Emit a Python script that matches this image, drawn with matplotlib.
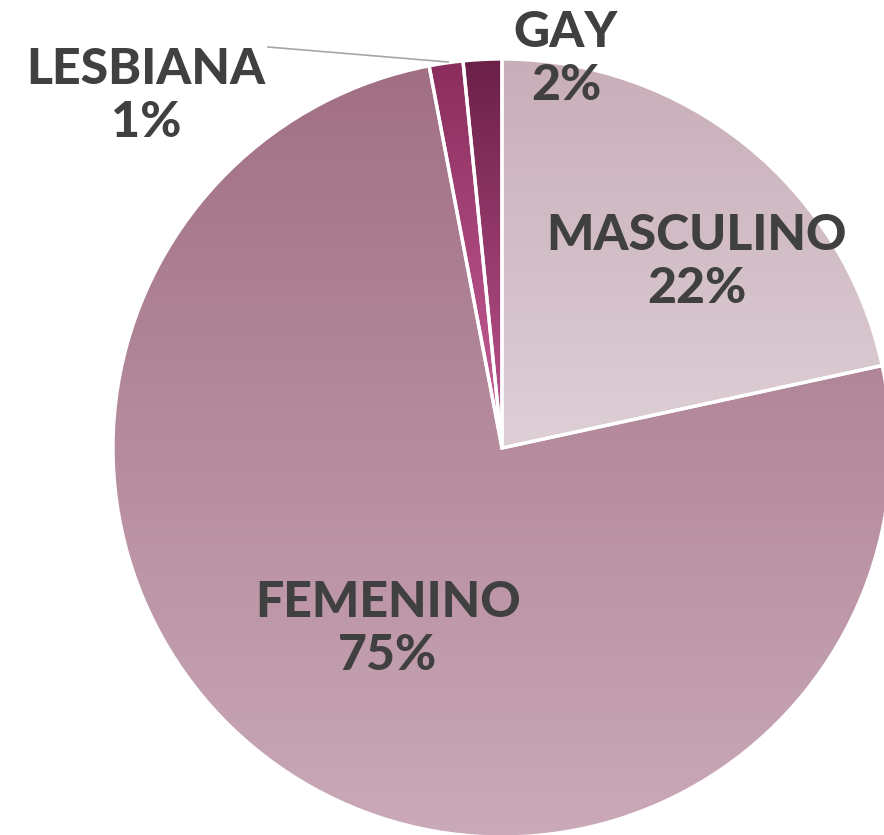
import matplotlib.pyplot as plt
import numpy as np
from matplotlib.colors import LinearSegmentedColormap

categories = ['MASCULINO', 'FEMENINO', 'LESBIANA', 'GAY']
values = [21.6, 75.4, 1.4, 1.6]
pct_labels = ['22%', '75%', '1%', '2%']
# gradient colours per slice (top, bottom)
grad_top = ['#c8aeb9', '#a16f84', '#8a2d5d', '#6b2048']
grad_bottom = ['#decfd6', '#caa9b8', '#c8609a', '#c05590']

W, H = 884, 835
fig = plt.figure(figsize=(W / 100, H / 100), dpi=100)
ax = fig.add_axes([0, 0, 1, 1])

cx, cy, r = 502, H - 448, 389
wedges, _ = ax.pie(values, startangle=90, counterclock=False,
                   center=(cx, cy), radius=r, frame=True,
                   wedgeprops=dict(facecolor='none', edgecolor='white',
                                   linewidth=2.4, zorder=3))

for w, c0, c1 in zip(wedges, grad_top, grad_bottom):
    bb = w.get_path().get_extents(w.get_patch_transform())
    cmap = LinearSegmentedColormap.from_list('g', [c1, c0])
    grad = np.linspace(0, 1, 256).reshape(-1, 1)
    im = ax.imshow(grad, cmap=cmap, origin='lower', aspect='auto',
                   extent=[bb.x0, bb.x1, bb.y0, bb.y1], zorder=2,
                   interpolation='bilinear')
    im.set_clip_path(w)

ax.set_xlim(0, W)
ax.set_ylim(0, H)
ax.set_aspect('equal')
ax.axis('off')

txt = dict(ha='center', va='center', color='#404040', fontsize=36,
           fontweight='black', family='Lato', linespacing=1.22, zorder=5)
label_pos = [(697, 262), (388, 629), (146, 96), (566, 59)]
for name, p, (x, y) in zip(categories, pct_labels, label_pos):
    ax.text(x, H - y, name + '\n' + p, **txt)

# leader line for LESBIANA
ax.plot([268, 448], [H - 47, H - 62], color='#a6a6a6', lw=1.2, zorder=4)

fig.savefig('out.png', dpi=100)
